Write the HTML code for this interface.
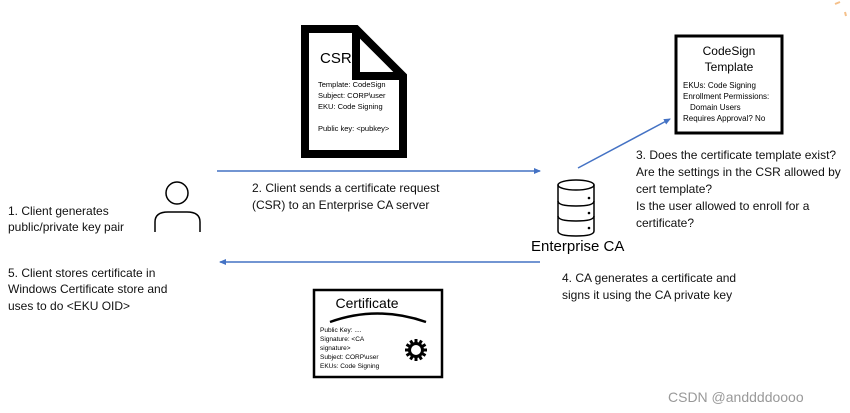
<!DOCTYPE html>
<html><head><meta charset="utf-8"><style>
html,body{margin:0;padding:0;background:#fff;}
svg{display:block;font-family:"Liberation Sans","DejaVu Sans",sans-serif;}
</style></head><body>
<svg width="850" height="413" viewBox="0 0 850 413" xmlns="http://www.w3.org/2000/svg">
<defs>
<marker id="ah" markerWidth="8" markerHeight="8" refX="6" refY="3" orient="auto" markerUnits="userSpaceOnUse">
<path d="M0,0 L7,3 L0,6 z" fill="#4472c4"/></marker>
</defs>
<rect width="850" height="413" fill="#fff"/>
<!-- CSR doc -->
<path d="M305,29 L356,29 L403,76 L403,154 L305,154 Z" fill="#fff" stroke="#000" stroke-width="8" stroke-linejoin="miter"/>
<path d="M356,29 L356,76 L403,76" fill="none" stroke="#000" stroke-width="8"/>
<text x="320" y="63" font-size="15">CSR</text>
<g font-size="7.5">
<text x="318" y="87">Template: CodeSign</text>
<text x="318" y="98">Subject: CORP\user</text>
<text x="318" y="109">EKU: Code Signing</text>
<text x="318" y="131">Public key: &lt;pubkey&gt;</text>
</g>
<!-- arrows -->
<line x1="217" y1="171" x2="540" y2="171" stroke="#4472c4" stroke-width="1.5" marker-end="url(#ah)"/>
<line x1="540" y1="262" x2="220" y2="262" stroke="#4472c4" stroke-width="1.5" marker-end="url(#ah)"/>
<line x1="578" y1="168" x2="670" y2="119" stroke="#4472c4" stroke-width="1.5" marker-end="url(#ah)"/>
<g font-size="12" fill="#111">
<text x="252" y="192">2. Client sends a certificate request</text>
<text x="252" y="209">(CSR) to an Enterprise CA server</text>
<text x="8" y="215">1. Client generates</text>
<text x="8" y="231">public/private key pair</text>
<text x="8" y="277">5. Client stores certificate in</text>
<text x="8" y="293">Windows Certificate store and</text>
<text x="8" y="310">uses to do &lt;EKU OID&gt;</text>
<text x="636" y="159">3. Does the certificate template exist?</text>
<text x="636" y="176">Are the settings in the CSR allowed by</text>
<text x="636" y="193">cert template?</text>
<text x="636" y="210">Is the user allowed to enroll for a</text>
<text x="636" y="227">certificate?</text>
<text x="562" y="282">4. CA generates a certificate and</text>
<text x="562" y="299">signs it using the CA private key</text>
</g>
<!-- person -->
<circle cx="177" cy="193" r="11" fill="none" stroke="#000" stroke-width="1.5"/>
<path d="M155,232 L155,222 Q155,212 168,212 L187,212 Q200,212 200,222 L200,232" fill="none" stroke="#000" stroke-width="1.5"/>
<!-- database -->
<g fill="none" stroke="#000" stroke-width="1.5">
<path d="M558,185 L558,231 Q558,236 576,236 Q594,236 594,231 L594,185"/>
<ellipse cx="576" cy="185" rx="18" ry="5"/>
<path d="M558,201 Q558,206 576,206 Q594,206 594,201"/>
<path d="M558,216 Q558,221 576,221 Q594,221 594,216"/>
</g>
<circle cx="589" cy="198" r="1.3"/><circle cx="589" cy="213" r="1.3"/><circle cx="589" cy="228" r="1.3"/>
<text x="531" y="251" font-size="15">Enterprise CA</text>
<!-- template -->
<rect x="676" y="36" width="106" height="97" fill="#fff" stroke="#000" stroke-width="3"/>
<text x="729" y="55" font-size="12" text-anchor="middle">CodeSign</text>
<text x="729" y="71" font-size="12" text-anchor="middle">Template</text>
<g font-size="8">
<text x="683" y="88">EKUs: Code Signing</text>
<text x="683" y="99">Enrollment Permissions:</text>
<text x="690" y="110">Domain Users</text>
<text x="683" y="121">Requires Approval? No</text>
</g>
<!-- certificate -->
<rect x="314" y="290" width="128" height="87" fill="#fff" stroke="#000" stroke-width="2.5"/>
<text x="367" y="308" font-size="14" text-anchor="middle">Certificate</text>
<path d="M330,322 Q377,305 426,322" fill="none" stroke="#000" stroke-width="2.5"/>
<g font-size="6.5">
<text x="320" y="332">Public Key: ....</text>
<text x="320" y="341">Signature: &lt;CA</text>
<text x="320" y="350">signature&gt;</text>
<text x="320" y="359">Subject: CORP\user</text>
<text x="320" y="368">EKUs: Code Signing</text>
</g>
<g transform="translate(416,350)">
<g fill="#000">
<rect x="-1.5" y="-11" width="3" height="22"/>
<rect x="-1.5" y="-11" width="3" height="22" transform="rotate(30)"/>
<rect x="-1.5" y="-11" width="3" height="22" transform="rotate(60)"/>
<rect x="-1.5" y="-11" width="3" height="22" transform="rotate(90)"/>
<rect x="-1.5" y="-11" width="3" height="22" transform="rotate(120)"/>
<rect x="-1.5" y="-11" width="3" height="22" transform="rotate(150)"/>
</g>
<circle r="8" fill="#000"/>
<circle r="5" fill="#fff"/>
</g>
<text x="668" y="402" font-size="14" fill="#999">CSDN @anddddoooo</text>
<path d="M835,4 L840,2 M845,12 L846,16" stroke="#f5c08a" stroke-width="2"/>
</svg>
</body></html>
